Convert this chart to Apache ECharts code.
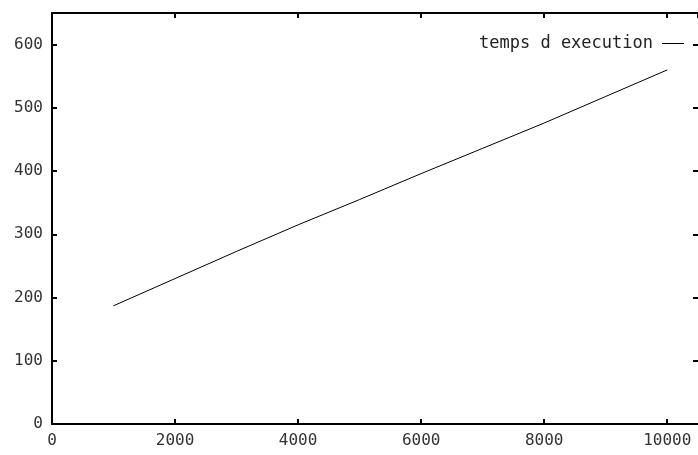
<!DOCTYPE html>
<html>
<head>
<meta charset="utf-8">
<script src="https://cdn.jsdelivr.net/npm/echarts@6/dist/echarts.min.js"></script>
<style>
    html, body { margin: 0; padding: 0; background: #fff; }
    #chart { width: 698px; height: 455px; }
</style>
</head>
<body>
<div id="chart"></div>
<script>
let sizes = [1000, 2000, 3000, 4000, 5000, 6000, 7000, 8000, 9000, 10000];
let times = [187, 230, 273, 315, 355, 396, 436, 476, 518, 560];
let seriesName = "temps d execution";

let chart = echarts.init(document.getElementById("chart"));

let font = "DejaVu Sans Mono";

// gnuplot style: ticks inside, mirrored on top and right
function xAxisOf(pos, showLabel) {
    return {
        type: "value",
        position: pos,
        min: 0,
        max: 10500,
        interval: 2000,
        axisLine: { onZero: false, lineStyle: { color: "#000", width: 2 } },
        axisTick: { inside: true, length: 5, lineStyle: { color: "#000", width: 2 } },
        splitLine: { show: false },
        axisLabel: {
            show: showLabel,
            showMaxLabel: false,
            margin: 9,
            color: "#333",
            fontFamily: font,
            fontSize: 16,
            formatter: (v) => String(v),
        },
    };
}

function yAxisOf(pos, showLabel) {
    return {
        type: "value",
        position: pos,
        min: 0,
        max: 650,
        interval: 100,
        // right border sits just past the canvas edge, only its ticks show
        axisLine: { show: showLabel, onZero: false, lineStyle: { color: "#000", width: 2 } },
        axisTick: { inside: true, length: 5, lineStyle: { color: "#000", width: 2 } },
        splitLine: { show: false },
        axisLabel: {
            show: showLabel,
            showMaxLabel: false,
            margin: 9,
            color: "#333",
            fontFamily: font,
            fontSize: 16,
            formatter: (v) => String(v),
        },
    };
}

let options = {
    animation: false,
    grid: {
        left: 52,
        top: 13,
        width: 648,
        height: 411,
    },
    legend: {
        data: [seriesName],
        right: 9,
        top: 30,
        align: "right",
        icon: "rect",
        itemWidth: 22,
        itemHeight: 1,
        itemStyle: { color: "#000" },
        textStyle: {
            color: "#222",
            fontFamily: font,
            fontSize: 17,
            padding: [0, 4, 0, 0],
        },
    },
    xAxis: [xAxisOf("bottom", true), xAxisOf("top", false)],
    yAxis: [yAxisOf("left", true), yAxisOf("right", false)],
    series: {
        name: seriesName,
        type: "line",
        xAxisIndex: 0,
        yAxisIndex: 0,
        symbol: "none",
        lineStyle: { color: "#000", width: 1 },
        itemStyle: { color: "#000" },
        data: sizes.map((s, i) => [s, times[i]]),
    },
};

chart.setOption(options);
</script>
</body>
</html>
